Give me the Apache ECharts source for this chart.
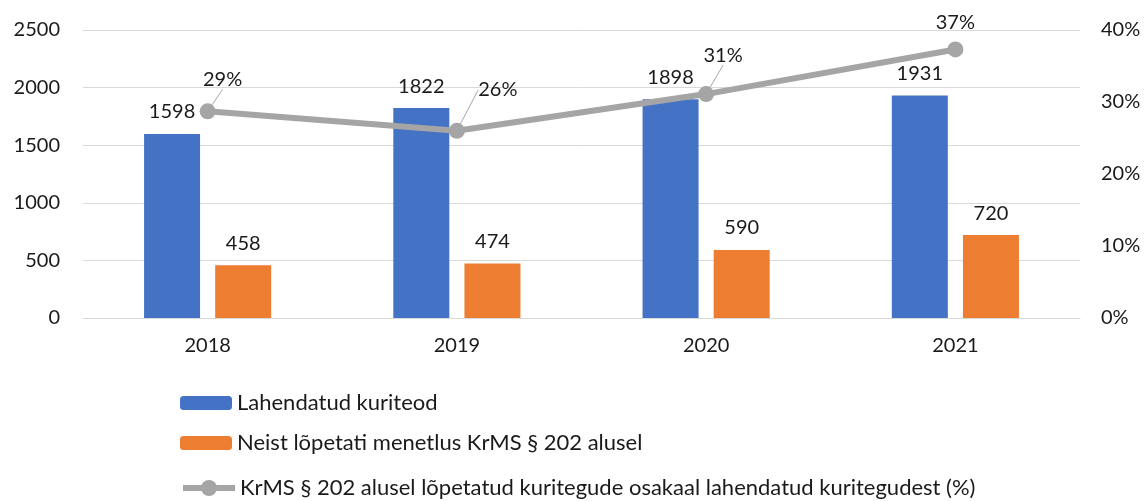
<!DOCTYPE html>
<html>
<head>
<meta charset="utf-8">
<script src="https://cdn.jsdelivr.net/npm/echarts@6/dist/echarts.min.js"></script>
<style>
  html, body { margin: 0; padding: 0; background: #fff; }
  #main { width: 1146px; height: 501px; }
</style>
</head>
<body>
<div id="main"></div>
<script>
// andmed
var years = ['2018', '2019', '2020', '2021'];
var solved = [1598, 1822, 1898, 1931];
var terminated = [458, 474, 590, 720];
var sharePct = [28.7, 26.0, 31.1, 37.3];
var leftTicks = { min: 0, max: 2500, interval: 500 };
var rightTicks = { min: 0, max: 40, interval: 10 };

var names = [
    'Lahendatud kuriteod',
    'Neist lõpetati menetlus KrMS § 202 alusel',
    'KrMS § 202 alusel lõpetatud kuritegude osakaal lahendatud kuritegudest (%)'
];

// protsendisiltide nihked (paigutus), viimasel pole juhtjoont
var pctLabelShift = [[15, -9], [41, -18], [17, -16], [0, -4]];
var pctLeader = [true, true, true, false];

var font = 'Lato, "Open Sans", sans-serif';
var myChart = echarts.init(document.getElementById('main'));

function legendFor(name, top, h) {
    return {
        data: [name],
        left: 180,
        top: top,
        padding: 0,
        itemWidth: 52,
        itemHeight: h,
        itemGap: 0,
        lineStyle: { width: 6 },
        textStyle: { fontFamily: font, fontSize: 22, color: '#1a1a1a' }
    };
}

var pctData = sharePct.map(function (v, i) {
    return { value: v, labelLine: { show: pctLeader[i] } };
});

myChart.setOption({
    animation: false,
    textStyle: { fontFamily: font },
    grid: { left: 83, right: 66, top: 30, bottom: 183 },
    legend: [
        legendFor(names[0], 392, 14),
        legendFor(names[1], 432, 14),
        legendFor(names[2], 477, 20)
    ],
    xAxis: {
        type: 'category',
        data: years,
        axisLine: { lineStyle: { color: '#d9d9d9', width: 1 } },
        axisTick: { show: false },
        axisLabel: { fontSize: 20, color: '#1a1a1a', margin: 18 }
    },
    yAxis: [
        {
            type: 'value',
            min: leftTicks.min, max: leftTicks.max, interval: leftTicks.interval,
            axisLine: { show: false },
            axisTick: { show: false },
            axisLabel: {
                fontSize: 20, color: '#1a1a1a', margin: 23,
                formatter: function (v) { return String(v); }
            },
            splitLine: { lineStyle: { color: '#d9d9d9', width: 1 } }
        },
        {
            type: 'value',
            min: rightTicks.min, max: rightTicks.max, interval: rightTicks.interval,
            axisLine: { show: false },
            axisTick: { show: false },
            splitLine: { show: false },
            axisLabel: { fontSize: 20, color: '#1a1a1a', margin: 21, formatter: '{value}%' }
        }
    ],
    series: [
        {
            name: names[0],
            type: 'bar',
            data: solved,
            barWidth: 56,
            barGap: '27%',
            itemStyle: { color: '#4472c4' },
            label: { show: true, position: 'top', distance: 12, fontSize: 20, color: '#1a1a1a' }
        },
        {
            name: names[1],
            type: 'bar',
            data: terminated,
            barWidth: 56,
            itemStyle: { color: '#ed7d31' },
            label: { show: true, position: 'top', distance: 12, fontSize: 20, color: '#1a1a1a' }
        },
        {
            name: names[2],
            type: 'line',
            yAxisIndex: 1,
            data: pctData,
            symbol: 'circle',
            symbolSize: 16,
            z: 5,
            itemStyle: { color: '#a5a5a5' },
            lineStyle: { color: '#a5a5a5', width: 6 },
            label: {
                show: true,
                position: 'top',
                fontSize: 20,
                color: '#1a1a1a',
                formatter: function (p) { return Math.round(p.value) + '%'; }
            },
            labelLine: { show: true, lineStyle: { color: '#a5a5a5', width: 1 } },
            labelLayout: function (p) {
                var s = pctLabelShift[p.dataIndex];
                return { dx: s[0], dy: s[1] };
            }
        }
    ]
});
window.onresize = myChart.resize;
</script>
</body>
</html>
